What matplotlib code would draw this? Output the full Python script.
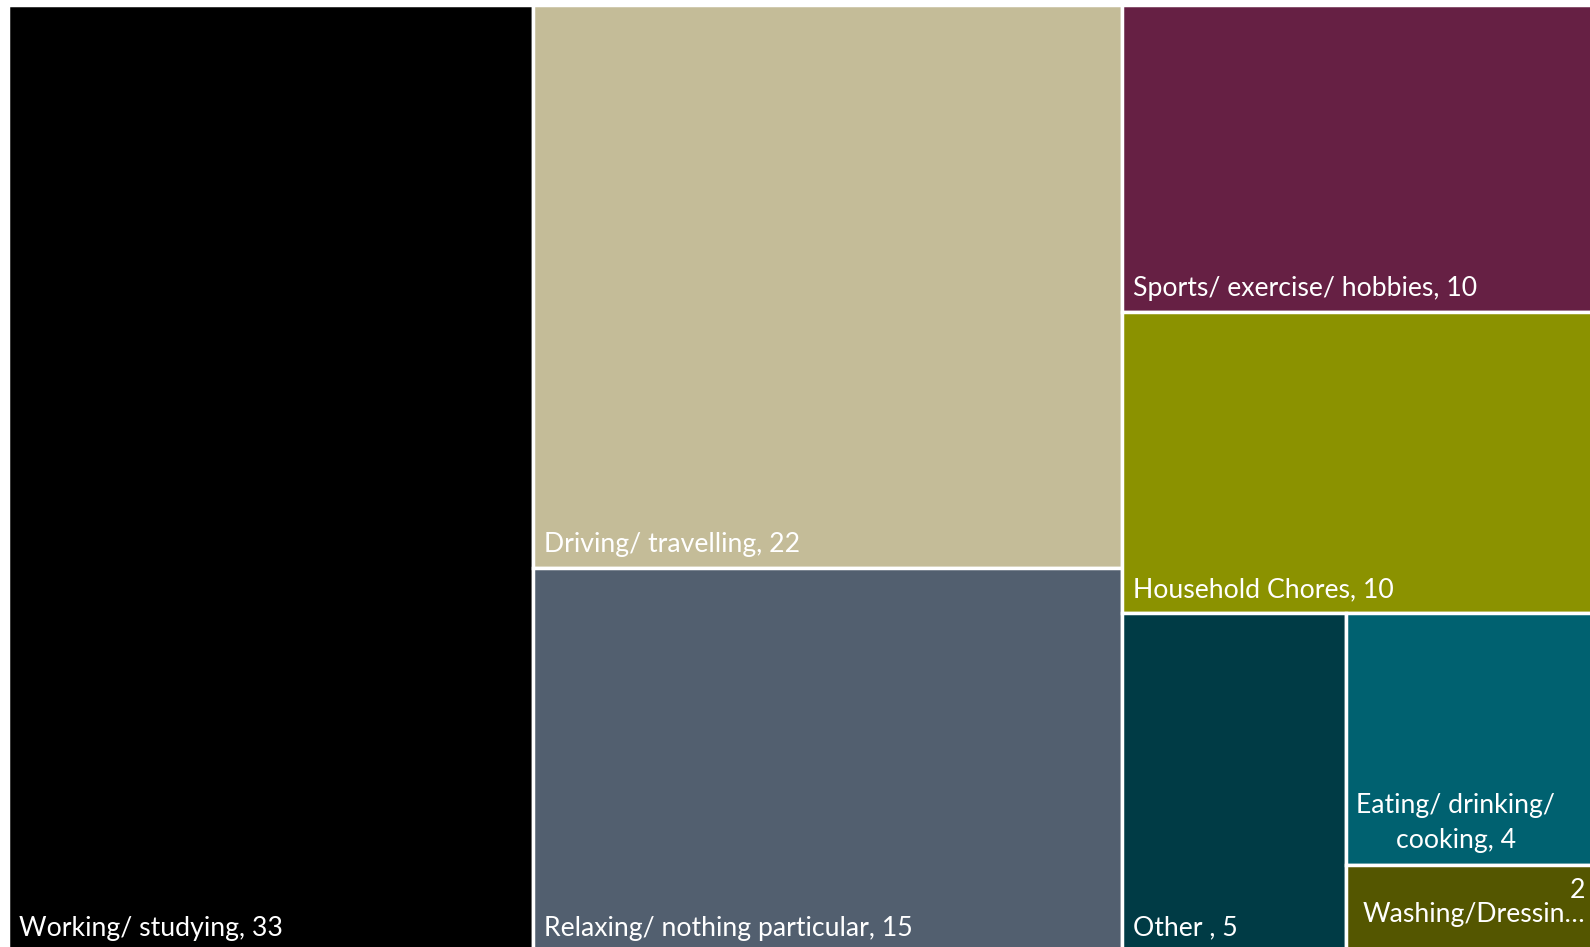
import matplotlib
matplotlib.use("Agg")
import matplotlib.pyplot as plt
from matplotlib.patches import Rectangle

plt.rcParams["font.family"] = ["Lato", "DejaVu Sans"]

# --------- Data ---------
categories = [
    "Working/ studying",
    "Driving/ travelling",
    "Relaxing/ nothing particular",
    "Sports/ exercise/ hobbies",
    "Household Chores",
    "Other ",
    "Eating/ drinking/ cooking",
    "Washing/Dressing",
]
# tile sizes estimated from the tile areas
sizes = [33, 22, 15, 9.9, 9.7, 5.05, 4.35, 1.5]
# values as printed on the labels
shown = [33, 22, 15, 10, 10, 5, 4, 2]
colors = ["#000000", "#C4BC98", "#525F6F", "#662044",
          "#8B9200", "#003B45", "#006170", "#545600"]

# --------- Canvas (pixel units) ---------
W_PX, H_PX = 1590, 947
X0, Y0 = 7.8, 4.5          # top-left of the treemap
TM_W, TM_H = 1599, 947     # treemap runs past the right/bottom edge
FS = 19.2


# --------- Squarified layout ---------
def layout_row(vals, x, y, dx, dy):
    covered = sum(vals)
    rects = []
    if dx >= dy:
        w = covered / dy
        for v in vals:
            h = v / w
            rects.append((x, y, w, h))
            y += h
    else:
        h = covered / dx
        for v in vals:
            w = v / h
            rects.append((x, y, w, h))
            x += w
    return rects


def leftover(vals, x, y, dx, dy):
    covered = sum(vals)
    if dx >= dy:
        w = covered / dy
        return x + w, y, dx - w, dy
    h = covered / dx
    return x, y + h, dx, dy - h


def worst(vals, x, y, dx, dy):
    return max(max(r[2] / r[3], r[3] / r[2]) for r in layout_row(vals, x, y, dx, dy))


def squarify(vals, x, y, dx, dy):
    if not vals:
        return []
    if len(vals) == 1:
        return layout_row(vals, x, y, dx, dy)
    i = 1
    while i < len(vals) and worst(vals[:i], x, y, dx, dy) >= worst(vals[:i + 1], x, y, dx, dy):
        i += 1
    cur = vals[:i]
    nx, ny, ndx, ndy = leftover(cur, x, y, dx, dy)
    return layout_row(cur, x, y, dx, dy) + squarify(vals[i:], nx, ny, ndx, ndy)


total = sum(sizes)
normed = [s * TM_W * TM_H / total for s in sizes]
rects = squarify(normed, X0, Y0, TM_W, TM_H)

# --------- Plot ---------
fig = plt.figure(figsize=(W_PX / 100, H_PX / 100), dpi=100)
ax = fig.add_axes([0, 0, 1, 1])
ax.set_xlim(0, W_PX)
ax.set_ylim(H_PX, 0)
ax.axis("off")

for i, ((x, y, w, h), name) in enumerate(zip(rects, categories)):
    ax.add_patch(Rectangle((x, y), w, h, facecolor=colors[i],
                           edgecolor="white", linewidth=2.5))
    if name.startswith("Washing"):
        ax.text(x + 16, y + 57, "%d\nWashing/Dressin…" % shown[i], color="white",
                fontsize=FS, ha="left", va="baseline", multialignment="right",
                linespacing=0.95)
    elif name.startswith("Eating"):
        ax.text(x + 10, y + h - 17, "Eating/ drinking/\ncooking, %d" % shown[i],
                color="white", fontsize=FS, ha="left", va="baseline",
                multialignment="center", linespacing=1.5)
    else:
        ax.text(x + 11, y + h - 16, "%s, %d" % (name, shown[i]), color="white",
                fontsize=FS, ha="left", va="baseline")

fig.savefig("out.png", dpi=100)
